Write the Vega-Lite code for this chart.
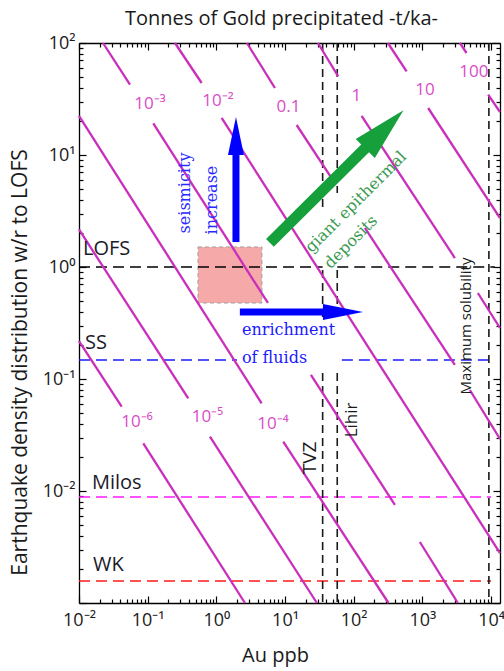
{
  "$schema": "https://vega.github.io/schema/vega-lite/v6.json",
  "width": 421,
  "height": 560,
  "autosize": {"type": "none"},
  "padding": {"left": 79, "top": 43, "right": 4, "bottom": 68},
  "background": "white",
  "config": {"view": {"stroke": null}, "font": "Open Sans"},
  "title": {"text": "Tonnes of Gold precipitated -t/ka-", "font": "Open Sans", "fontSize": 20, "fontWeight": "normal", "color": "#1a1a1a", "anchor": "middle", "frame": "group", "dx": -8, "offset": 5},
  "datasets": {
    "segs": [
      {"t": "1e-6", "x": 0.01, "y": 0.2184, "x2": 0.04183, "y2": 0.05657},
      {"t": "1e-6", "x": 0.0863, "y": 0.02666, "x2": 2.608, "y2": 0.001},
      {"t": "1e-5", "x": 0.01, "y": 2.162, "x2": 0.3899, "y2": 0.06726},
      {"t": "1e-5", "x": 0.807, "y": 0.03054, "x2": 29.13, "y2": 0.001},
      {"t": "1e-4", "x": 0.01, "y": 22.3, "x2": 4.564, "y2": 0.06067},
      {"t": "1e-4", "x": 9.415, "y": 0.02755, "x2": 321.1, "y2": 0.001},
      {"t": "1e-3", "x": 0.02235, "y": 100, "x2": 0.05526, "y2": 42.43},
      {"t": "1e-3", "x": 0.1207, "y": 19.19, "x2": 5.638, "y2": 0.4772},
      {"t": "1e-3", "x": 23.82, "y": 0.1086, "x2": 397.9, "y2": 0.0075},
      {"t": "1e-3", "x": 919.6, "y": 0.003504, "x2": 3286, "y2": 0.001},
      {"t": "1e-2", "x": 0.2496, "y": 100, "x2": 0.6109, "y2": 43.94},
      {"t": "1e-2", "x": 1.194, "y": 21.4, "x2": 13500, "y2": 0.002795},
      {"t": "0.1", "x": 2.789, "y": 100, "x2": 7.129, "y2": 39.65},
      {"t": "0.1", "x": 14.75, "y": 18.53, "x2": 49.81, "y2": 5.98},
      {"t": "0.1", "x": 145.6, "y": 2.23, "x2": 2972, "y2": 0.1334},
      {"t": "0.1", "x": 4913, "y": 0.07975, "x2": 13500, "y2": 0.02912},
      {"t": "1", "x": 30.12, "y": 100, "x2": 59.49, "y2": 50.43},
      {"t": "1", "x": 130.3, "y": 22.3, "x2": 2972, "y2": 1.203},
      {"t": "1", "x": 6427, "y": 0.5859, "x2": 13500, "y2": 0.2853},
      {"t": "10", "x": 314.6, "y": 100, "x2": 588.8, "y2": 55.89},
      {"t": "10", "x": 1214, "y": 26.28, "x2": 13500, "y2": 2.738},
      {"t": "100", "x": 3514, "y": 100, "x2": 4399, "y2": 81.42},
      {"t": "100", "x": 9075, "y": 34.55, "x2": 13500, "y2": 24.21}
    ],
    "hlines": [
      {"name": "LOFS", "y": 1, "x": 0.01, "x2": 35.3},
      {"name": "LOFS", "y": 1, "x": 57.6, "x2": 11350},
      {"name": "SS", "y": 0.148, "x": 0.01, "x2": 1.995},
      {"name": "SS", "y": 0.148, "x": 67.3, "x2": 11350},
      {"name": "Milos", "y": 0.00883, "x": 0.01, "x2": 10000},
      {"name": "WK", "y": 0.00157, "x": 0.01, "x2": 10000}
    ],
    "vlines": [
      {"name": "TVZ", "x": 35.3, "y": 100, "y2": 3.36},
      {"name": "TVZ", "x": 35.3, "y": 0.94, "y2": 0.336},
      {"name": "TVZ", "x": 35.3, "y": 0.113, "y2": 0.001},
      {"name": "Lihir", "x": 57.6, "y": 100, "y2": 4.58},
      {"name": "Lihir", "x": 57.6, "y": 0.94, "y2": 0.336},
      {"name": "Lihir", "x": 57.6, "y": 0.113, "y2": 0.001},
      {"name": "Maximum solubility", "x": 9300, "y": 100, "y2": 0.001}
    ],
    "box": [{"x": 0.54, "x2": 4.61, "y": 0.477, "y2": 1.51}],
    "clabels": [
      {"label": "10⁻³", "x": 0.108, "y": 28.5},
      {"label": "10⁻²", "x": 1.055, "y": 30.3},
      {"label": "0.1", "x": 11.2, "y": 27.1},
      {"label": "1", "x": 109.5, "y": 33.97},
      {"label": "10", "x": 1088, "y": 37.67},
      {"label": "100", "x": 5619, "y": 55.1},
      {"label": "10⁻⁶", "x": 0.0699, "y": 0.0413},
      {"label": "10⁻⁵", "x": 0.742, "y": 0.0458},
      {"label": "10⁻⁴", "x": 6.67, "y": 0.0396}
    ],
    "leftlabels": [
      {"label": "LOFS", "x": 0.01143, "y": 1.448},
      {"label": "SS", "x": 0.01223, "y": 0.2097},
      {"label": "Milos", "x": 0.01546, "y": 0.01179},
      {"label": "WK", "x": 0.01598, "y": 0.00218}
    ]
  },
  "layer": [
    {
      "data": {"name": "box"},
      "mark": {"type": "rect", "fill": "#f6a9a9", "stroke": "#a0a0a0", "strokeDash": [4, 3], "strokeWidth": 1},
      "encoding": {
        "x": {"field": "x", "type": "quantitative", "scale": {"type": "log", "domain": [0.01, 13500], "nice": false}, "axis": null},
        "x2": {"field": "x2"},
        "y": {"field": "y", "type": "quantitative", "scale": {"type": "log", "domain": [0.001, 100], "nice": false}, "axis": null},
        "y2": {"field": "y2"}
      }
    },
    {
      "data": {"name": "hlines"},
      "mark": {"type": "rule", "strokeDash": [11, 6], "strokeWidth": 1.6},
      "encoding": {
        "x": {"field": "x", "type": "quantitative", "scale": {"type": "log", "domain": [0.01, 13500], "nice": false}, "axis": null},
        "x2": {"field": "x2"},
        "y": {"field": "y", "type": "quantitative", "scale": {"type": "log", "domain": [0.001, 100], "nice": false}, "axis": null},
        "color": {"field": "name", "type": "nominal", "scale": {"domain": ["LOFS", "SS", "Milos", "WK"], "range": ["#000000", "#1a1aff", "#ff1aff", "#ff1a1a"]}, "legend": null}
      }
    },
    {
      "data": {"name": "vlines"},
      "mark": {"type": "rule", "strokeDash": [8, 5], "strokeWidth": 1.6, "color": "#1a1a1a"},
      "encoding": {
        "x": {"field": "x", "type": "quantitative", "scale": {"type": "log", "domain": [0.01, 13500], "nice": false},
          "axis": {"orient": "top", "values": [0.01,0.02,0.03,0.04,0.05,0.06,0.07,0.08,0.09,0.1,0.2,0.3,0.4,0.5,0.6,0.7,0.8,0.9,1,2,3,4,5,6,7,8,9,10,20,30,40,50,60,70,80,90,100,200,300,400,500,600,700,800,900,1000,2000,3000,4000,5000,6000,7000,8000,9000,10000],
            "labels": false, "title": null, "grid": false, "domainColor": "#000", "domainWidth": 1.3, "tickColor": "#000", "tickWidth": 1.2,
            "tickSize": {"condition": {"test": "abs(log(datum.value)/LN10-round(log(datum.value)/LN10))<0.01", "value": -7}, "value": -4}}},
        "y": {"field": "y", "type": "quantitative", "scale": {"type": "log", "domain": [0.001, 100], "nice": false},
          "axis": {"orient": "right", "values": [0.001,0.002,0.003,0.004,0.005,0.006,0.007,0.008,0.009,0.01,0.02,0.03,0.04,0.05,0.06,0.07,0.08,0.09,0.1,0.2,0.3,0.4,0.5,0.6,0.7,0.8,0.9,1,2,3,4,5,6,7,8,9,10,20,30,40,50,60,70,80,90,100],
            "labels": false, "title": null, "grid": false, "domainColor": "#000", "domainWidth": 1.3, "tickColor": "#000", "tickWidth": 1.2,
            "tickSize": {"condition": {"test": "abs(log(datum.value)/LN10-round(log(datum.value)/LN10))<0.01", "value": -7}, "value": -4}}},
        "y2": {"field": "y2"}
      }
    },
    {
      "data": {"name": "segs"},
      "mark": {"type": "rule", "color": "#c92fbb", "strokeWidth": 2.3},
      "encoding": {
        "x": {"field": "x", "type": "quantitative", "scale": {"type": "log", "domain": [0.01, 13500], "nice": false},
          "axis": {"orient": "bottom", "values": [0.01,0.02,0.03,0.04,0.05,0.06,0.07,0.08,0.09,0.1,0.2,0.3,0.4,0.5,0.6,0.7,0.8,0.9,1,2,3,4,5,6,7,8,9,10,20,30,40,50,60,70,80,90,100,200,300,400,500,600,700,800,900,1000,2000,3000,4000,5000,6000,7000,8000,9000,10000],
            "labelExpr": "abs(log(datum.value)/LN10-round(log(datum.value)/LN10))>0.01 ? '' : ['10⁻²','10⁻¹','10⁰','10¹','10²','10³','10⁴'][round(log(datum.value)/LN10)+2]",
            "labelFont": "Open Sans", "labelFontSize": 18, "labelColor": "#1a1a1a", "labelPadding": 15, "labelFlush": false, "labelOverlap": false,
            "grid": false, "domainColor": "#000", "domainWidth": 1.3, "tickColor": "#000", "tickWidth": 1.2,
            "tickSize": {"condition": {"test": "abs(log(datum.value)/LN10-round(log(datum.value)/LN10))<0.01", "value": -7}, "value": -4},
            "title": "Au ppb", "titleFont": "Open Sans", "titleFontSize": 20, "titleFontWeight": "normal", "titleColor": "#1a1a1a",
            "titleX": 196, "titleY": 52, "titleBaseline": "middle", "titleAlign": "center"}},
        "x2": {"field": "x2"},
        "y": {"field": "y", "type": "quantitative", "scale": {"type": "log", "domain": [0.001, 100], "nice": false},
          "axis": {"orient": "left", "values": [0.001,0.002,0.003,0.004,0.005,0.006,0.007,0.008,0.009,0.01,0.02,0.03,0.04,0.05,0.06,0.07,0.08,0.09,0.1,0.2,0.3,0.4,0.5,0.6,0.7,0.8,0.9,1,2,3,4,5,6,7,8,9,10,20,30,40,50,60,70,80,90,100],
            "labelExpr": "abs(log(datum.value)/LN10-round(log(datum.value)/LN10))>0.01 ? '' : ['','10⁻²','10⁻¹','10⁰','10¹','10²'][round(log(datum.value)/LN10)+3]",
            "labelFont": "Open Sans", "labelFontSize": 18, "labelColor": "#1a1a1a", "labelPadding": 11, "labelOverlap": false, "labelFlush": false,
            "grid": false, "domainColor": "#000", "domainWidth": 1.3, "tickColor": "#000", "tickWidth": 1.2,
            "tickSize": {"condition": {"test": "abs(log(datum.value)/LN10-round(log(datum.value)/LN10))<0.01", "value": -7}, "value": -4},
            "title": "Earthquake density distribution w/r to LOFS", "titleFont": "Open Sans", "titleFontSize": 21, "titleFontWeight": "normal", "titleColor": "#1a1a1a",
            "titleX": -59, "titleY": 319, "titleBaseline": "middle", "titleAlign": "center", "titleAngle": -90}},
        "y2": {"field": "y2"}
      }
    },
    {
      "data": {"values": [{"x": 1.93, "y": 1.67, "y2": 12}]},
      "mark": {"type": "rule", "color": "#0000ff", "strokeWidth": 7},
      "encoding": {
        "x": {"field": "x", "type": "quantitative", "scale": {"type": "log", "domain": [0.01, 13500], "nice": false}, "axis": null},
        "y": {"field": "y", "type": "quantitative", "scale": {"type": "log", "domain": [0.001, 100], "nice": false}, "axis": null},
        "y2": {"field": "y2"}
      }
    },
    {
      "data": {"values": [{"x": 1.93, "y": 14.8}]},
      "mark": {"type": "point", "shape": "M0,-1L0.42,1L-0.42,1Z", "size": 1444, "filled": true, "color": "#0000ff", "opacity": 1, "strokeWidth": 0},
      "encoding": {
        "x": {"field": "x", "type": "quantitative", "scale": {"type": "log", "domain": [0.01, 13500], "nice": false}, "axis": null},
        "y": {"field": "y", "type": "quantitative", "scale": {"type": "log", "domain": [0.001, 100], "nice": false}, "axis": null}
      }
    },
    {
      "data": {"values": [{"x": 2.2, "x2": 40, "y": 0.396}]},
      "mark": {"type": "rule", "color": "#0000ff", "strokeWidth": 7},
      "encoding": {
        "x": {"field": "x", "type": "quantitative", "scale": {"type": "log", "domain": [0.01, 13500], "nice": false}, "axis": null},
        "x2": {"field": "x2"},
        "y": {"field": "y", "type": "quantitative", "scale": {"type": "log", "domain": [0.001, 100], "nice": false}, "axis": null}
      }
    },
    {
      "data": {"values": [{"x": 69.7, "y": 0.396}]},
      "mark": {"type": "point", "shape": "M1,0L-1,0.4L-1,-0.4Z", "size": 1600, "filled": true, "color": "#0000ff", "opacity": 1, "strokeWidth": 0},
      "encoding": {
        "x": {"field": "x", "type": "quantitative", "scale": {"type": "log", "domain": [0.01, 13500], "nice": false}, "axis": null},
        "y": {"field": "y", "type": "quantitative", "scale": {"type": "log", "domain": [0.001, 100], "nice": false}, "axis": null}
      }
    },
    {
      "data": {"values": [{"x": 6.03, "y": 1.64, "x2": 172.1, "y2": 12.62}]},
      "mark": {"type": "rule", "color": "#15a03c", "strokeWidth": 11},
      "encoding": {
        "x": {"field": "x", "type": "quantitative", "scale": {"type": "log", "domain": [0.01, 13500], "nice": false}, "axis": null},
        "x2": {"field": "x2"},
        "y": {"field": "y", "type": "quantitative", "scale": {"type": "log", "domain": [0.001, 100], "nice": false}, "axis": null},
        "y2": {"field": "y2"}
      }
    },
    {
      "data": {"values": [{"x": 279.9, "y": 16.93}]},
      "mark": {"type": "point", "shape": "M0,-1L0.5,1L-0.5,1Z", "size": 2916, "angle": 45, "filled": true, "color": "#15a03c", "opacity": 1, "strokeWidth": 0},
      "encoding": {
        "x": {"field": "x", "type": "quantitative", "scale": {"type": "log", "domain": [0.01, 13500], "nice": false}, "axis": null},
        "y": {"field": "y", "type": "quantitative", "scale": {"type": "log", "domain": [0.001, 100], "nice": false}, "axis": null}
      }
    },
    {
      "data": {"name": "clabels"},
      "mark": {"type": "text", "font": "Open Sans", "fontSize": 17, "color": "#d94cc6", "align": "center", "baseline": "middle"},
      "encoding": {
        "x": {"field": "x", "type": "quantitative", "scale": {"type": "log", "domain": [0.01, 13500], "nice": false}, "axis": null},
        "y": {"field": "y", "type": "quantitative", "scale": {"type": "log", "domain": [0.001, 100], "nice": false}, "axis": null},
        "text": {"field": "label"}
      }
    },
    {
      "data": {"name": "leftlabels"},
      "mark": {"type": "text", "font": "Open Sans", "fontSize": 20, "color": "#1a1a2a", "align": "left", "baseline": "middle"},
      "encoding": {
        "x": {"field": "x", "type": "quantitative", "scale": {"type": "log", "domain": [0.01, 13500], "nice": false}, "axis": null},
        "y": {"field": "y", "type": "quantitative", "scale": {"type": "log", "domain": [0.001, 100], "nice": false}, "axis": null},
        "text": {"field": "label"}
      }
    },
    {
      "data": {"values": [{"label": "TVZ", "x": 23.0, "y": 0.01972}]},
      "mark": {"type": "text", "font": "Open Sans", "fontSize": 19, "color": "#1a1a1a", "align": "center", "baseline": "middle", "angle": -90},
      "encoding": {
        "x": {"field": "x", "type": "quantitative", "scale": {"type": "log", "domain": [0.01, 13500], "nice": false}, "axis": null},
        "y": {"field": "y", "type": "quantitative", "scale": {"type": "log", "domain": [0.001, 100], "nice": false}, "axis": null},
        "text": {"field": "label"}
      }
    },
    {
      "data": {"values": [{"label": "Lihir", "x": 94.2, "y": 0.0431}]},
      "mark": {"type": "text", "font": "Open Sans", "fontSize": 17, "color": "#1a1a1a", "align": "center", "baseline": "middle", "angle": -90},
      "encoding": {
        "x": {"field": "x", "type": "quantitative", "scale": {"type": "log", "domain": [0.01, 13500], "nice": false}, "axis": null},
        "y": {"field": "y", "type": "quantitative", "scale": {"type": "log", "domain": [0.001, 100], "nice": false}, "axis": null},
        "text": {"field": "label"}
      }
    },
    {
      "data": {"values": [{"label": "Maximum solubility", "x": 4295, "y": 0.297}]},
      "mark": {"type": "text", "font": "Open Sans", "fontSize": 15, "color": "#1a1a1a", "align": "center", "baseline": "middle", "angle": -90},
      "encoding": {
        "x": {"field": "x", "type": "quantitative", "scale": {"type": "log", "domain": [0.01, 13500], "nice": false}, "axis": null},
        "y": {"field": "y", "type": "quantitative", "scale": {"type": "log", "domain": [0.001, 100], "nice": false}, "axis": null},
        "text": {"field": "label"}
      }
    },
    {
      "data": {"values": [{"label": "seismicity", "x": 0.349, "y": 4.58}, {"label": "increase", "x": 0.863, "y": 3.963}]},
      "mark": {"type": "text", "font": "DejaVu Serif", "fontSize": 16, "color": "#2a2aff", "align": "center", "baseline": "middle", "angle": -90},
      "encoding": {
        "x": {"field": "x", "type": "quantitative", "scale": {"type": "log", "domain": [0.01, 13500], "nice": false}, "axis": null},
        "y": {"field": "y", "type": "quantitative", "scale": {"type": "log", "domain": [0.001, 100], "nice": false}, "axis": null},
        "text": {"field": "label"}
      }
    },
    {
      "data": {"values": [{"label": "enrichment", "x": 2.36, "y": 0.274}, {"label": "of fluids", "x": 2.36, "y": 0.154}]},
      "mark": {"type": "text", "font": "DejaVu Serif", "fontSize": 16, "color": "#1a1aff", "align": "left", "baseline": "middle"},
      "encoding": {
        "x": {"field": "x", "type": "quantitative", "scale": {"type": "log", "domain": [0.01, 13500], "nice": false}, "axis": null},
        "y": {"field": "y", "type": "quantitative", "scale": {"type": "log", "domain": [0.001, 100], "nice": false}, "axis": null},
        "text": {"field": "label"}
      }
    },
    {
      "data": {"values": [{"label": "giant epithermal", "x": 107.6, "y": 3.805}, {"label": "deposits", "x": 91.0, "y": 1.672}]},
      "mark": {"type": "text", "font": "DejaVu Serif", "fontSize": 16, "color": "#3a9a50", "align": "center", "baseline": "middle", "angle": -45},
      "encoding": {
        "x": {"field": "x", "type": "quantitative", "scale": {"type": "log", "domain": [0.01, 13500], "nice": false}, "axis": null},
        "y": {"field": "y", "type": "quantitative", "scale": {"type": "log", "domain": [0.001, 100], "nice": false}, "axis": null},
        "text": {"field": "label"}
      }
    }
  ],
  "resolve": {"axis": {"x": "independent", "y": "independent"}}
}
